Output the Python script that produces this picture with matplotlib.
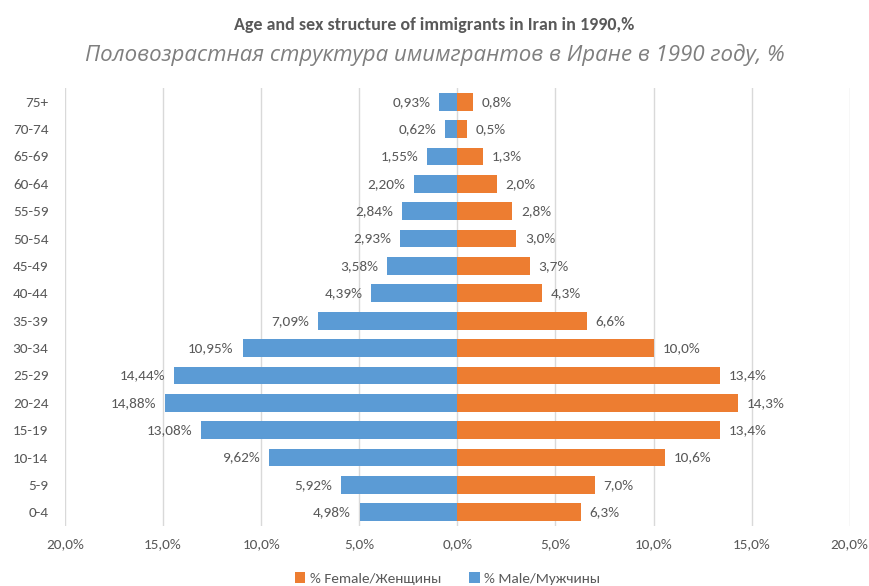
import matplotlib
matplotlib.use("Agg")
import matplotlib.pyplot as plt
from matplotlib.ticker import FuncFormatter
import numpy as np
from matplotlib import font_manager

avail = {f.name for f in font_manager.fontManager.ttflist}
fams = [f for f in ["Carlito", "Liberation Sans Narrow", "Open Sans", "DejaVu Sans"] if f in avail]
plt.rcParams['font.family'] = fams
sub_fams = [f for f in ["Open Sans", "DejaVu Sans"] if f in avail]

ages = ["0-4", "5-9", "10-14", "15-19", "20-24", "25-29", "30-34", "35-39",
        "40-44", "45-49", "50-54", "55-59", "60-64", "65-69", "70-74", "75+"]
male = [4.98, 5.92, 9.62, 13.08, 14.88, 14.44, 10.95, 7.09,
        4.39, 3.58, 2.93, 2.84, 2.20, 1.55, 0.62, 0.93]
female = [6.3, 7.0, 10.6, 13.4, 14.3, 13.4, 10.0, 6.6,
          4.3, 3.7, 3.0, 2.8, 2.0, 1.3, 0.5, 0.8]
xticks = [-20, -15, -10, -5, 0, 5, 10, 15, 20]

title = "Age and sex structure of immigrants in Iran in 1990,%"
subtitle = "Половозрастная структура имимгрантов в Иране в 1990 году, %"
female_label = "% Female/Женщины"
male_label = "% Male/Мужчины"

blue = "#5B9BD5"
orange = "#ED7D31"
txt = "#595959"

fig = plt.figure(figsize=(8.69, 5.86), dpi=100)
ax = fig.add_axes([0.0748, 0.1024, 0.903, 0.7474])

y = np.arange(len(ages))
hb = ax.barh(y, [-m for m in male], height=0.65, color=blue, label=male_label, zorder=3)
hf = ax.barh(y, female, height=0.65, color=orange, label=female_label, zorder=3)

for yi, m in zip(y, male):
    ax.text(-m - 0.45, yi, f"{m:.2f}%".replace(".", ","), ha="right", va="center",
            fontsize=11, color=txt)
for yi, f in zip(y, female):
    ax.text(f + 0.45, yi, f"{f:.1f}%".replace(".", ","), ha="left", va="center",
            fontsize=11, color=txt)

ax.set_xlim(-20, 20)
ax.set_ylim(-0.5, len(ages) - 0.5)
ax.set_xticks(xticks)
ax.xaxis.set_major_formatter(FuncFormatter(lambda v, p: f"{abs(v):.1f}%".replace(".", ",")))
ax.set_yticks(y)
ax.set_yticklabels(ages)
ax.tick_params(axis="both", length=0, colors=txt, labelsize=11)
ax.tick_params(axis="x", pad=9)
ax.tick_params(axis="y", pad=12)
ax.grid(axis="x", color="#D9D9D9", linewidth=1, zorder=0)
for s in ax.spines.values():
    s.set_visible(False)

fig.text(0.5, 0.958, title, ha="center", va="center", fontsize=13,
         fontweight="bold", color=txt)
fig.text(0.5, 0.906, subtitle, ha="center", va="center", fontsize=16,
         style="italic", color="#7F7F7F", family=sub_fams)

leg = fig.legend([hf, hb], [female_label, male_label], loc="center",
                 bbox_to_anchor=(0.515, 0.013), ncol=2, frameon=False,
                 fontsize=11, handlelength=0.7, handleheight=0.7,
                 handletextpad=0.3, columnspacing=1.8)
for t in leg.get_texts():
    t.set_color(txt)

fig.savefig("out.png", dpi=100)
